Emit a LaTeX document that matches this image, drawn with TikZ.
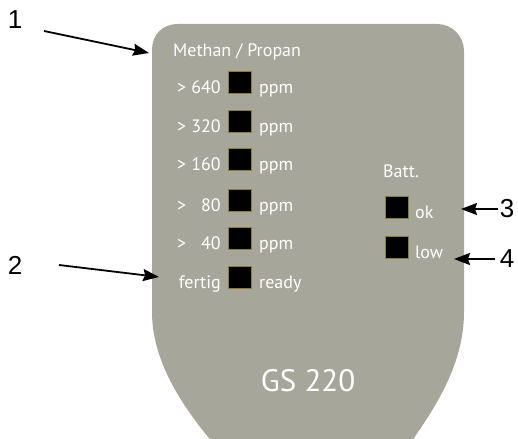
\documentclass[tikz,border=0pt]{standalone}
\usepackage{fontspec}
\setmainfont{PT Sans}
\newfontfamily\numfont{Liberation Sans}
\usetikzlibrary{arrows.meta}
\definecolor{devgrey}{RGB}{167,166,155}
\definecolor{ledrim}{RGB}{140,125,50}
\tikzset{
  lbl/.style={inner sep=0pt, text=white, font=\fontsize{18}{21}\selectfont},
  led/.style={fill=black, draw=ledrim, line width=0.5pt, minimum width=23pt, minimum height=22pt, inner sep=0pt, anchor=south west},
  callout/.style={inner sep=0pt, font=\numfont\fontsize{26}{29}\selectfont},
  pointer/.style={line width=1.8pt, -{Stealth[length=16pt,width=12pt,inset=2pt]}}
}
\begin{document}
\begin{tikzpicture}[x=1pt,y=-1pt]
\useasboundingbox (0,0) rectangle (518,438);
\begin{scope}
\clip (0,0) rectangle (518,438);
\fill[devgrey] (152,312) -- (152,50) .. controls (152,35) and (162,24) .. (178,24) -- (437,24) .. controls (452,24) and (464,36) .. (464,51) -- (464,312) .. controls (464,365) and (435,410) .. (398,460) -- (228,460) .. controls (187,415) and (152,365) .. (152,312) -- cycle;
\end{scope}

\node[lbl, anchor=base west] (title) at (173,57) {Methan / Propan};

% rows
\foreach \i/\val/\yb in {1/640/94, 2/320/133, 3/160/171, 4/80/211, 5/40/249} {
  \node[lbl, anchor=base west] (gt\i) at (177,\yb) {>};
  \node[lbl, anchor=base east] (v\i) at (221,\yb) {\val};
  \node[led] (s\i) at (228,\yb) {};
  \node[lbl, anchor=base west] (u\i) at (259,\yb) {ppm};
}
\node[lbl, anchor=base east] (fertig) at (221,288) {fertig};
\node[led] (s6) at (228,288) {};
\node[lbl, anchor=base west] (ready) at (259,288) {ready};

% battery
\node[lbl, anchor=base west] (batt) at (383,178) {Batt.};
\node[led] (ok) at (385,218) {};
\node[lbl, anchor=base west] (oktxt) at (415,218) {ok};
\node[led] (low) at (385,258) {};
\node[lbl, anchor=base west] (lowtxt) at (415,258) {low};

\node[lbl, anchor=base, font=\fontsize{31}{35}\selectfont] (model) at (308,391) {GS 220};

% callouts
\node[callout] (n1) at (15,20) {1};
\node[callout] (n2) at (15,265) {2};
\node[callout] (n3) at (507,209) {3};
\node[callout] (n4) at (507,259) {4};

\coordinate (a1s) at (44,31);
\coordinate (a1e) at (149,53);
\coordinate (a2s) at (59,265);
\coordinate (a2e) at (159,277);
\coordinate (a3s) at (498,209);
\coordinate (a3e) at (461,209);
\coordinate (a4s) at (495,259);
\coordinate (a4e) at (454,259);
\draw[pointer] (a1s) -- (a1e);
\draw[pointer] (a2s) -- (a2e);
\draw[pointer] (a3s) -- (a3e);
\draw[pointer] (a4s) -- (a4e);
\end{tikzpicture}
\end{document}
